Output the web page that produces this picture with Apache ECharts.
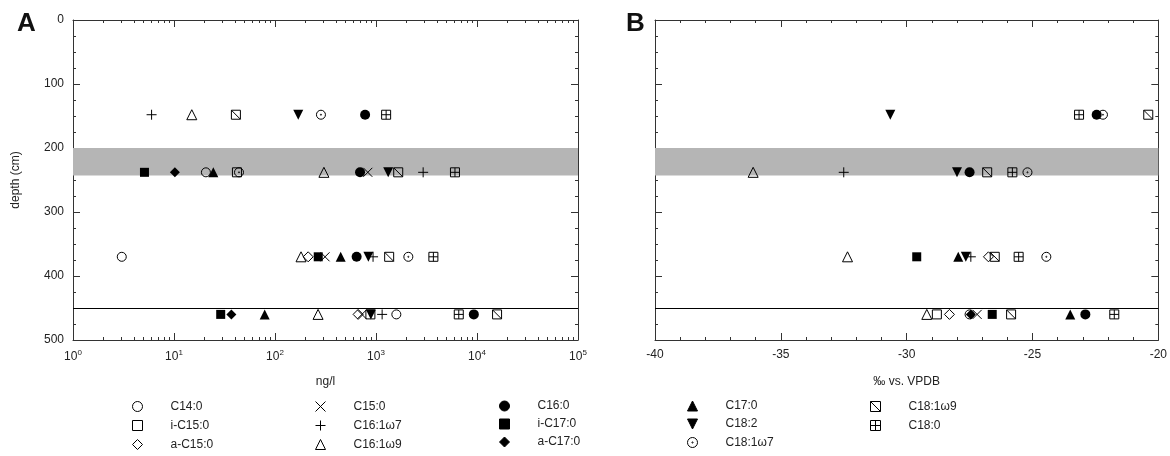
<!DOCTYPE html>
<html><head><meta charset="utf-8">
<script src="https://cdn.jsdelivr.net/npm/echarts@6/dist/echarts.min.js"></script>
<style>html,body{margin:0;padding:0;background:#fff}#c{width:1170px;height:456px}</style>
</head><body><div id="c"></div>
<script>
// ---------- DATA ----------
const depths = [148, 238, 370, 460]; // cm
const names = ['C14:0','i-C15:0','a-C15:0','C15:0','C16:1ω7','C16:1ω9','C16:0','i-C17:0','a-C17:0','C17:0','C18:2','C18:1ω7','C18:1ω9','C18:0'];
// Panel A: concentration (ng/l) per compound at the four depths
const concentration = [
  [null, 20.7, 3.04, 1590],   // C14:0
  [null, 42, null, 880],      // i-C15:0
  [null, null, 213, 665],     // a-C15:0
  [null, 830, 313, 725],      // C15:0
  [6.0, 2930, 935, 1150],     // C16:1ω7
  [15, 305, 181, 267],        // C16:1ω9
  [780, 695, 643, 9300],      // C16:0
  [null, 5.1, 268, 29],       // i-C17:0
  [null, 10.2, null, 37],     // a-C17:0
  [null, 24.5, 447, 79],      // C17:0
  [170, 1320, 840, 890],      // C18:2
  [285, 44, 2090, null],      // C18:1ω7
  [41, 1660, 1350, 15800],    // C18:1ω9
  [1260, 6050, 3700, 6600]    // C18:0
];
// Panel B: δ13C (‰ vs. VPDB) per compound at the four depths
const delta13C = [
  [null, null, null, -27.5],
  [null, null, null, -28.8],
  [null, null, -26.75, -28.3],
  [null, null, null, -27.2],
  [null, -32.5, -27.45, null],
  [null, -36.1, -32.35, -29.2],
  [-22.45, -27.5, null, -22.9],
  [null, null, -29.6, -26.6],
  [null, null, null, -27.45],
  [null, null, -27.95, -23.5],
  [-30.65, -28.0, -27.65, null],
  [-22.2, -25.2, -24.45, null],
  [-20.4, -26.8, -26.5, -25.85],
  [-23.15, -25.8, -25.55, -21.75]
];
const bandDepths = [200, 243];
const lineDepth = 450;
const logMajorTicks = [1, 10, 100, 1000, 10000, 100000];

// ---------- STYLE ----------
const P = {
  plus: 'path://M5,0L5,10M0,5L10,5',
  cross: 'path://M0,0L10,10M10,0L0,10',
  downTri: 'path://M0,0L10,0L5,10Z',
  dotCircle: 'path://M0,5A5,5,0,1,1,10,5A5,5,0,1,1,0,5ZM4.4,5A0.6,0.6,0,1,1,5.6,5A0.6,0.6,0,1,1,4.4,5Z',
  slashSquare: 'path://M0,0L10,0L10,10L0,10ZM0,0L10,10',
  gridSquare: 'path://M0,0L10,0L10,10L0,10ZM5,0L5,10M0,5L10,5'
};
const markerStyles = [
  {symbol:'circle', fill:false, size:9},
  {symbol:'rect', fill:false, size:9},
  {symbol:'diamond', fill:false, size:10},
  {symbol:P.cross, fill:false, size:9},
  {symbol:P.plus, fill:false, size:10},
  {symbol:'triangle', fill:false, size:10},
  {symbol:'circle', fill:true, size:10},
  {symbol:'rect', fill:true, size:9},
  {symbol:'diamond', fill:true, size:10},
  {symbol:'triangle', fill:true, size:10},
  {symbol:P.downTri, fill:true, size:10},
  {symbol:P.dotCircle, fill:false, size:9},
  {symbol:P.slashSquare, fill:false, size:9},
  {symbol:P.gridSquare, fill:false, size:9}
];
const legendCols = [[0,1,2],[3,4,5],[6,7,8],[9,10,11],[12,13]];
const legendLefts = [130, 313, 499, 685, 868];

const FONT = 'Liberation Sans, Arial, sans-serif';
const AX = '#333';
const logMinorTicks = [];
for (let e = 0; e < 5; e++) for (let m = 2; m <= 9; m++) logMinorTicks.push(m * Math.pow(10, e));

function xLog(grid, pos, opts) {
  return Object.assign({
    type:'log', logBase:10, gridIndex:grid, position:pos, min:1, max:100000,
    axisLine:{show:true, onZero:false, lineStyle:{color:AX, width:1}},
    axisTick:{show:true, inside:true, length:7, lineStyle:{color:AX}, customValues: logMajorTicks},
    axisLabel:{show:false}, splitLine:{show:false}
  }, opts || {});
}
function xLogMinor(grid, pos) {
  return {
    type:'log', logBase:10, gridIndex:grid, position:pos, min:1, max:100000,
    axisLine:{show:false, onZero:false},
    axisTick:{show:true, inside:true, length:3, lineStyle:{color:AX}, customValues: logMinorTicks},
    axisLabel:{show:false}, splitLine:{show:false}
  };
}
function linAxis(grid, pos, min, max, interval, minorSplit, inverse, extra) {
  return Object.assign({
    type:'value', gridIndex:grid, position:pos, min:min, max:max, interval:interval, inverse:!!inverse,
    axisLine:{show:true, onZero:false, lineStyle:{color:AX, width:1}},
    axisTick:{show:true, inside:true, length:7, lineStyle:{color:AX}},
    minorTick:{show:true, splitNumber:minorSplit, length:3, lineStyle:{color:AX}},
    axisLabel:{show:false}, splitLine:{show:false}
  }, extra || {});
}

const xAxes = [
  xLog(0, 'bottom', {
    name:'ng/l', nameLocation:'middle', nameGap:36,
    nameTextStyle:{fontSize:12, color:'#222', fontFamily:FONT},
    axisLabel:{show:true, margin:9, color:'#222', fontSize:12, fontFamily:FONT, customValues: logMajorTicks,
      formatter: v => '10{s|' + Math.round(Math.log10(v)) + '}',
      rich:{s:{fontSize:8, padding:[0,0,7,0], color:'#222', fontFamily:FONT}}}
  }),
  xLogMinor(0, 'bottom'),
  xLog(0, 'top'),
  xLogMinor(0, 'top'),
  linAxis(1, 'bottom', -40, -20, 5, 5, false, {
    name:'‰ vs. VPDB', nameLocation:'middle', nameGap:36,
    nameTextStyle:{fontSize:12, color:'#222', fontFamily:FONT},
    axisLabel:{show:true, margin:9, color:'#222', fontSize:12, fontFamily:FONT}
  }),
  linAxis(1, 'top', -40, -20, 5, 5, false)
];
const yAxes = [
  linAxis(0, 'left', 0, 500, 100, 4, true, {
    name:'depth (cm)', nameLocation:'middle', nameGap:51,
    nameTextStyle:{fontSize:12, color:'#222', fontFamily:FONT},
    axisLabel:{show:true, margin:9, color:'#222', fontSize:12, fontFamily:FONT}
  }),
  linAxis(0, 'right', 0, 500, 100, 4, true),
  linAxis(1, 'left', 0, 500, 100, 4, true),
  linAxis(1, 'right', 0, 500, 100, 4, true)
];

function pairs(vals) {
  const out = [];
  vals.forEach((v, i) => { if (v !== null) out.push([v, depths[i]]); });
  return out;
}
function styleFor(k) {
  const m = markerStyles[k];
  return {
    symbol: m.symbol, symbolSize: m.size,
    itemStyle: { color: m.fill ? '#000' : 'none', borderColor:'#000', borderWidth: m.fill ? 0 : 1, opacity:1 }
  };
}
const series = [];
[[0,0],[4,2]].forEach(([xi, yi]) => {
  series.push({
    type:'scatter', xAxisIndex:xi, yAxisIndex:yi, data:[], silent:true, z:1,
    markArea:{silent:true, itemStyle:{color:'#b5b5b5'}, data:[[{yAxis:bandDepths[0]},{yAxis:bandDepths[1]}]]},
    markLine:{silent:true, symbol:['none','none'], label:{show:false},
      lineStyle:{color:'#000', type:'solid', width:1}, data:[{yAxis:lineDepth}]}
  });
});
names.forEach((n, k) => {
  series.push(Object.assign({type:'scatter', name:n, xAxisIndex:0, yAxisIndex:0, z:3,
    data: pairs(concentration[k])}, styleFor(k)));
  series.push(Object.assign({type:'scatter', name:n, xAxisIndex:4, yAxisIndex:2, z:3,
    data: pairs(delta13C[k])}, styleFor(k)));
});

const option = {
  animation:false,
  textStyle:{fontFamily:FONT},
  title:[
    {text:'A', left:12, top:6, textStyle:{fontSize:26, fontWeight:'bold', color:'#111', fontFamily:FONT}},
    {text:'B', left:621, top:6, textStyle:{fontSize:26, fontWeight:'bold', color:'#111', fontFamily:FONT}}
  ],
  grid:[
    {left:73, top:20, width:505, height:320},
    {left:655, top:20, width:505, height:320}
  ],
  xAxis:xAxes,
  yAxis:yAxes,
  legend: legendCols.map((col, i) => ({
    orient:'vertical', left:legendLefts[i], top:399, height:90, padding:0, itemGap:4,
    itemWidth:10, itemHeight:10, selectedMode:false,
    itemStyle:{borderWidth:1},
    data: col.map(k => names[k]),
    textStyle:{fontSize:12, lineHeight:14, color:'#222', fontFamily:FONT, padding:[0,0,0,23]}
  })),
  series: series
};
echarts.init(document.getElementById('c'), null, {renderer:'canvas'}).setOption(option);
</script>
</body></html>
